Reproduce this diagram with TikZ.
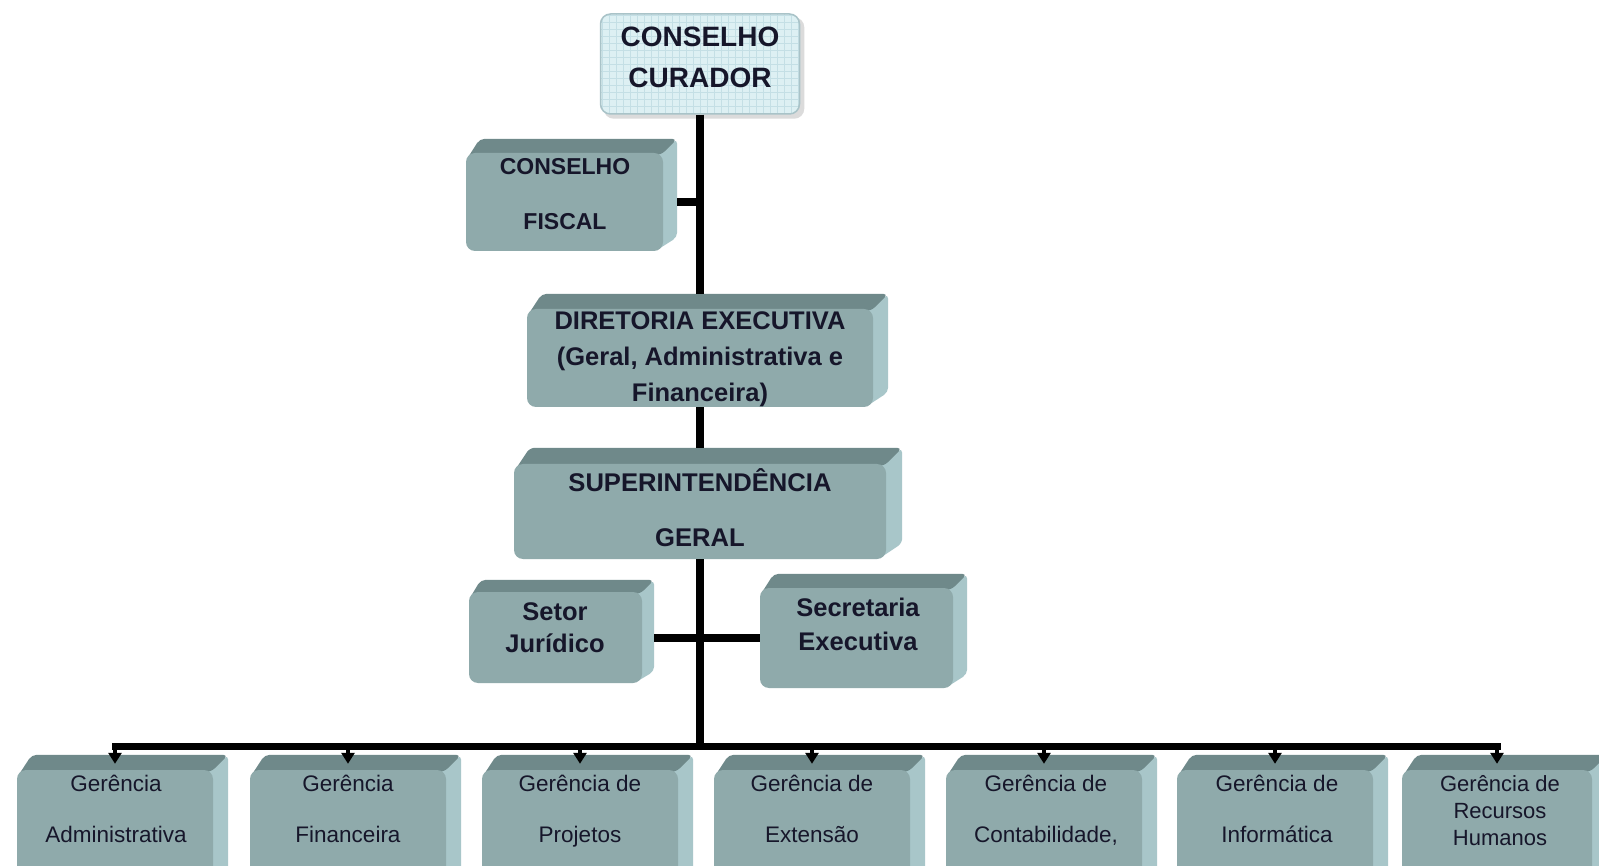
\documentclass[tikz,border=0pt]{standalone}
\usepackage{fontspec}
\setmainfont{Liberation Sans}
\usetikzlibrary{arrows.meta,backgrounds}
\pgfdeclarelayer{bgzero}
\pgfsetlayers{bgzero,background,main}
\definecolor{frontc}{HTML}{8FAAAB}
\definecolor{topc}{HTML}{6F898A}
\definecolor{sidec}{HTML}{A8C6C9}
\definecolor{inkc}{HTML}{16162A}
\definecolor{curfill}{HTML}{DDF0F3}
\definecolor{curgrid}{HTML}{C4DFE5}
\definecolor{curedge}{HTML}{A9C3C8}
\tikzset{
  frontbox/.style={fill=frontc, rounded corners=9pt, inner sep=0pt, draw=none},
  curbox/.style={fill=curfill, draw=curedge, line width=1.5pt, rounded corners=10pt, inner sep=0pt,
    path picture={\draw[curgrid, line width=0.7pt] (path picture bounding box.south west) grid[step=7pt] (path picture bounding box.north east);}},
  btxt/.style 2 args={font=\fontsize{#1}{#2}\selectfont\bfseries, text=inkc, align=center, inner sep=0pt},
  rtxt/.style 2 args={font=\fontsize{#1}{#2}\selectfont, text=inkc, align=center, inner sep=0pt, text depth=5pt},
  conn/.style={line width=8pt, black},
  busline/.style={line width=7pt, black, line cap=rect},
  drop/.style={line width=4pt, black, -{Triangle[length=11pt,width=13pt]}},
}
\newcommand\cubefaces[2]{%
  \fill[sidec,rounded corners=5pt] ([xshift=-8pt]#1.north east) -- ([xshift=#2pt,yshift=#2pt]#1.north east) -- ([xshift=#2pt,yshift=#2pt]#1.south east) -- ([xshift=-8pt]#1.south east) -- cycle;
  \fill[topc,rounded corners=5pt] ([yshift=-8pt]#1.north west) -- ([xshift=#2pt,yshift=#2pt]#1.north west) -- ([xshift=#2pt,yshift=#2pt]#1.north east) -- ([xshift=-2pt,yshift=-2pt]#1.north east) -- cycle;
}
\begin{document}
\begin{tikzpicture}[x=1pt,y=-1pt]
\begin{pgfonlayer}{bgzero}
\fill[white] (0,0) rectangle (1599,866);
\end{pgfonlayer}

% top box
\node[curbox, minimum width=199pt, minimum height=100pt] (cur) at (700,64) {};
\node[btxt={28}{41}] (curt) at (700,57.5) {CONSELHO\\CURADOR};

% cubes
\node[frontbox, minimum width=197pt, minimum height=98pt] (fiscal) at (564.5,202) {};
\node[btxt={23}{55}] (fiscalt) at (565,194.5) {CONSELHO\\FISCAL};

\node[frontbox, minimum width=346pt, minimum height=98pt] (dir) at (700,358) {};
\node[btxt={25.5}{36}] (dirt) at (700,359) {DIRETORIA EXECUTIVA\\(Geral, Administrativa e\\Financeira)};

\node[frontbox, minimum width=372pt, minimum height=95pt] (sup) at (700,511.5) {};
\node[btxt={25.6}{55}] (supt) at (700,507.5) {SUPERINTENDÊNCIA\\GERAL};

\node[frontbox, minimum width=173pt, minimum height=91pt] (setor) at (555.5,637.5) {};
\node[btxt={25.5}{32}] (setort) at (555,628) {Setor\\Jurídico};

\node[frontbox, minimum width=193pt, minimum height=100pt] (sec) at (856.5,638) {};
\node[btxt={25.5}{34}] (sect) at (858,624) {Secretaria\\Executiva};

% bottom row
\node[frontbox, minimum width=196pt, minimum height=130pt] (adm) at (115,835) {};
\node[rtxt={22.5}{51}] (admt) at (116,811) {Gerência\\Administrativa};
\node[frontbox, minimum width=196pt, minimum height=130pt] (fin) at (348,835) {};
\node[rtxt={22.5}{51}] (fint) at (348,811) {Gerência\\Financeira};
\node[frontbox, minimum width=196pt, minimum height=130pt] (proj) at (580,835) {};
\node[rtxt={22.5}{51}] (projt) at (580,811) {Gerência de\\Projetos};
\node[frontbox, minimum width=196pt, minimum height=130pt] (ext) at (812,835) {};
\node[rtxt={22.5}{51}] (extt) at (812,811) {Gerência de\\Extensão};
\node[frontbox, minimum width=196pt, minimum height=130pt] (cont) at (1044,835) {};
\node[rtxt={22.5}{51}] (contt) at (1046,811) {Gerência de\\Contabilidade,};
\node[frontbox, minimum width=196pt, minimum height=130pt] (info) at (1275,835) {};
\node[rtxt={22.5}{51}] (infot) at (1277,811) {Gerência de\\Informática};
\node[frontbox, minimum width=190pt, minimum height=130pt] (rh) at (1497,835) {};
\node[rtxt={22}{27}] (rht) at (1500,813) {Gerência de\\Recursos\\Humanos};

\begin{pgfonlayer}{background}
  \fill[black!14, rounded corners=10pt] ([xshift=4pt,yshift=-4pt]cur.north west) rectangle ([xshift=4pt,yshift=-4pt]cur.south east);
  \cubefaces{fiscal}{14}
  \cubefaces{dir}{15}
  \cubefaces{sup}{16}
  \cubefaces{setor}{12}
  \cubefaces{sec}{14}
  \cubefaces{adm}{15}
  \cubefaces{fin}{15}
  \cubefaces{proj}{15}
  \cubefaces{ext}{15}
  \cubefaces{cont}{15}
  \cubefaces{info}{15}
  \cubefaces{rh}{15}
\end{pgfonlayer}

% connectors
\coordinate (bus) at (700,746);
\draw[conn] (cur.south) -- ([yshift=15pt]dir.north);
\draw[conn] ([xshift=14pt]fiscal.east) -- (fiscal.east -| cur.south);
\draw[conn] (dir.south) -- ([yshift=16pt]sup.north);
\draw[conn] (sup.south) -- (bus);
\draw[conn] ([xshift=12pt]setor.east) -- (sec.west |- setor.east);
\draw[busline] (adm.north |- bus) -- (rh.north |- bus);
\foreach \n in {adm,fin,proj,ext,cont,info,rh}{
  \draw[drop] (\n.north |- bus) -- ([yshift=6pt]\n.north);
}

\pgfresetboundingbox
\useasboundingbox (0,0) rectangle (1599,866);
\end{tikzpicture}
\end{document}
